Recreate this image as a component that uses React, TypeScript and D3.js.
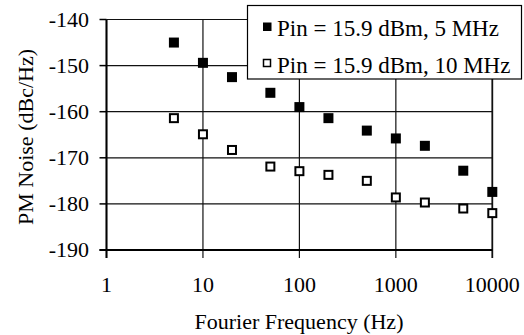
import { scaleLog, scaleLinear } from "d3";

// Fourier frequency (Hz)
const freqs = [5, 10, 20, 50, 100, 200, 500, 1000, 2000, 5000, 10000];
// PM noise, dBc/Hz
const noise5MHz = [-145.0, -149.4, -152.5, -155.9, -159.0, -161.4, -164.1, -165.8, -167.4, -172.8, -177.4];
const noise10MHz = [-161.4, -164.9, -168.3, -171.9, -172.9, -173.7, -175.0, -178.6, -179.7, -181.0, -182.0];

const yTicks = [-140, -150, -160, -170, -180, -190];
const xTicks = [1, 10, 100, 1000, 10000];
const seriesLabels = ["Pin = 15.9 dBm, 5 MHz", "Pin = 15.9 dBm, 10 MHz"];

const W = 524;
const H = 335;
const left = 106.5;
const right = 492.3;
const top = 19.5;
const bottom = 250;

const x = scaleLog().domain([1, 10000]).range([left, right]);
const y = scaleLinear().domain([-190, -140]).range([bottom, top]);

export default function App() {
  const s10 = 8;
  const s5 = 10;
  const ff = { fontFamily: '"Liberation Serif", "Times New Roman", Tinos, FreeSerif, Georgia, serif' };
  return (
    <svg width={W} height={H} style={{ position: "absolute", left: 0, top: 0 }}>
      <rect width={W} height={H} fill="#fff" />
      {/* horizontal gridlines */}
      {yTicks.map((t) => (
        <line key={"gy" + t} x1={left} x2={right} y1={y(t)} y2={y(t)} stroke="#111" strokeWidth={1.2} />
      ))}
      {/* vertical gridlines + x ticks */}
      {xTicks.map((t) => (
        <line
          key={"gx" + t}
          x1={x(t)}
          x2={x(t)}
          y1={top}
          y2={bottom + 8}
          stroke="#111"
          strokeWidth={t === 10000 ? 1.8 : 1.2}
        />
      ))}
      {/* axes */}
      <line x1={left} x2={left} y1={top} y2={bottom + 8} stroke="#000" strokeWidth={2} />
      <line x1={left - 7} x2={right} y1={bottom} y2={bottom} stroke="#000" strokeWidth={2} />
      {yTicks.map((t) => (
        <line key={"ty" + t} x1={left - 7} x2={left} y1={y(t)} y2={y(t)} stroke="#000" strokeWidth={1.5} />
      ))}
      {yTicks.map((t) => (
        <text key={"ly" + t} x={89} y={y(t) + 7} textAnchor="end" fontSize={22} style={ff}>
          {`-${Math.abs(t)}`}
        </text>
      ))}
      {xTicks.map((t) => (
        <text key={"lx" + t} x={x(t)} y={292} textAnchor="middle" fontSize={22} style={ff}>
          {String(t)}
        </text>
      ))}
      <text x={299} y={329} textAnchor="middle" fontSize={22} style={ff}>
        Fourier Frequency (Hz)
      </text>
      <text transform="translate(33,137) rotate(-90)" textAnchor="middle" fontSize={22} style={ff}>
        PM Noise (dBc/Hz)
      </text>

      {/* 10 MHz: open squares */}
      {freqs.map((f, i) => (
        <rect
          key={"o" + f}
          x={x(f) - s10 / 2}
          y={y(noise10MHz[i]) - s10 / 2}
          width={s10}
          height={s10}
          fill="#fff"
          stroke="#000"
          strokeWidth={2}
        />
      ))}
      {/* 5 MHz: filled squares */}
      {freqs.map((f, i) => (
        <rect
          key={"f" + f}
          x={x(f) - s5 / 2}
          y={y(noise5MHz[i]) - s5 / 2}
          width={s5}
          height={s5}
          fill="#000"
        />
      ))}

      {/* legend */}
      <rect x={247.5} y={5.5} width={274} height={73.5} fill="#fff" stroke="#000" strokeWidth={1.2} />
      <rect x={263} y={22.5} width={8.5} height={8.5} fill="#000" />
      <rect x={263.5} y={59.5} width={7} height={7} fill="#fff" stroke="#000" strokeWidth={1.5} />
      {seriesLabels.map((s, i) => (
        <text key={s} x={277} y={i === 0 ? 35.5 : 72.5} fontSize={23} style={ff}>
          {s}
        </text>
      ))}
    </svg>
  );
}
